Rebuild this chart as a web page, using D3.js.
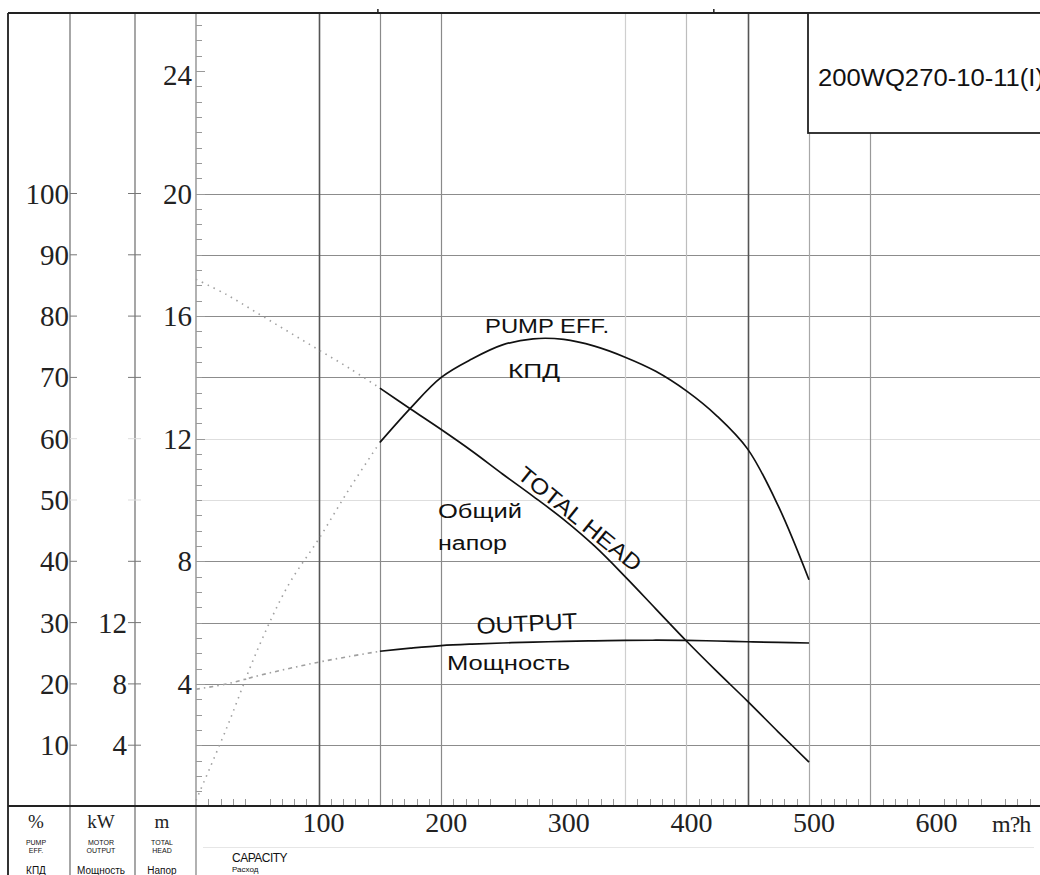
<!DOCTYPE html>
<html>
<head>
<meta charset="utf-8">
<script src="https://cdn.jsdelivr.net/npm/d3@7/dist/d3.min.js"></script>
<style>
  html, body { margin: 0; padding: 0; background: #fff; }
  svg { display: block; }
  .serif { font-family: "Liberation Serif", "DejaVu Serif", serif; fill: #222; }
  .sans { font-family: "Liberation Sans", Arial, sans-serif; fill: #111; }
</style>
</head>
<body>
<svg id="chart" width="1040" height="875"></svg>
<script>
// ---------------- data ----------------
const capacity   = [0, 25, 50, 75, 100, 125, 150, 175, 200, 225, 250, 275, 300, 325, 350, 375, 400, 425, 450, 475, 500];
const totalHead  = [17.2, 16.7, 16.1, 15.5, 14.9, 14.3, 13.65, 12.97, 12.3, 11.6, 10.85, 10.12, 9.36, 8.5, 7.5, 6.45, 5.4, 4.4, 3.43, 2.43, 1.45];
const efficiency = [1, 12.8, 25.5, 36, 43.6, 51.8, 59.4, 65, 70, 73, 75.3, 76.3, 76.2, 75.1, 73.3, 71, 67.8, 63.7, 58.3, 49, 37];
const power      = [7.65, 8.0, 8.52, 8.99, 9.42, 9.79, 10.13, 10.33, 10.5, 10.6, 10.67, 10.73, 10.77, 10.81, 10.84, 10.85, 10.84, 10.8, 10.75, 10.71, 10.67];
const solidFrom  = 150;   // operating range start (dotted below)

const xTickLabels   = [100, 200, 300, 400, 500, 600];
const headTicks     = [4, 8, 12, 16, 20, 24];
const pctTicks      = [10, 20, 30, 40, 50, 60, 70, 80, 90, 100];
const kwTicks       = [4, 8, 12];
const gridHead      = [2, 4, 6, 8, 10, 12, 14, 16, 18, 20];
const gridLight     = [10, 12];
const gridQ         = [100, 150, 200, 350, 400, 450, 500, 550];
const gridQStyle    = {100: "#555", 150: "#8a8a8a", 200: "#8a8a8a", 350: "#cfcfcf", 400: "#bdbdbd", 450: "#555", 500: "#a8a8a8", 550: "#999"};
const modelName     = "200WQ270-10-11(I)";
const unitLabel     = "m?h";

// ---------------- scales ----------------
const svg = d3.select("#chart");
const W = 1040, H = 875;
const x = d3.scaleLinear().domain([0, 600]).range([196, 931.6]);
const yHead = d3.scaleLinear().domain([0, 20]).range([806.5, 193.5]);
const yPct  = d3.scaleLinear().domain([0, 100]).range([806.5, 193.5]);
const yKw   = d3.scaleLinear().domain([0, 40]).range([806.5, 193.5]);
const topY = 13, axisY = 806;

// ---------------- grid ----------------
const g = svg.append("g");
g.selectAll("line.hg").data(gridHead).enter().append("line")
  .attr("x1", 196).attr("x2", W)
  .attr("y1", d => Math.round(yHead(d)) + 0.5).attr("y2", d => Math.round(yHead(d)) + 0.5)
  .attr("stroke", d => gridLight.includes(d) ? "#dedede" : "#8c8c8c").attr("stroke-width", 1);

g.selectAll("line.vg").data(gridQ).enter().append("line")
  .attr("x1", d => Math.round(x(d)) + 0.5).attr("x2", d => Math.round(x(d)) + 0.5)
  .attr("y1", d => d >= 550 ? 133 : topY).attr("y2", axisY)
  .attr("stroke", d => gridQStyle[d]).attr("stroke-width", d => (d === 100 || d === 450) ? 1.6 : 1.2);

[[8, "#333", 2], [70, "#777", 1.3], [135, "#777", 1.3], [196, "#888", 1.3]].forEach(([xx, c, w]) => {
  svg.append("line").attr("x1", xx).attr("x2", xx).attr("y1", topY).attr("y2", H)
    .attr("stroke", c).attr("stroke-width", w);
});
svg.append("line").attr("x1", 203).attr("x2", 1034).attr("y1", 847.5).attr("y2", 847.5)
  .attr("stroke", "#e6e6e6").attr("stroke-width", 1);

svg.append("line").attr("x1", 8).attr("x2", W).attr("y1", topY).attr("y2", topY)
  .attr("stroke", "#222").attr("stroke-width", 2.2);
[150, 424].forEach(q => {
  svg.append("line").attr("x1", x(q) - 2).attr("x2", x(q) - 2).attr("y1", 9).attr("y2", topY)
    .attr("stroke", "#222").attr("stroke-width", 1.5);
});

svg.append("rect").attr("x", 808).attr("y", topY).attr("width", 240).attr("height", 120)
  .attr("fill", "#fff").attr("stroke", "#222").attr("stroke-width", 1.8);
svg.append("text").attr("class", "sans").attr("x", 818).attr("y", 86)
  .attr("font-size", 23).attr("textLength", 226).attr("lengthAdjust", "spacingAndGlyphs")
  .text(modelName);

// ---------------- axes ----------------
const headMinor = d3.range(0.5, 25.6, 0.5);
svg.selectAll("line.hm").data(headMinor).enter().append("line")
  .attr("x1", 196).attr("x2", d => d % 4 === 0 ? 205 : 202)
  .attr("y1", d => Math.round(yHead(d)) + 0.5).attr("y2", d => Math.round(yHead(d)) + 0.5)
  .attr("stroke", "#999").attr("stroke-width", 1);

const qMinor = d3.range(10, 700, 10).filter(d => d % 50 !== 0);
svg.selectAll("line.qm").data(qMinor).enter().append("line")
  .attr("x1", d => Math.round(x(d)) + 0.5).attr("x2", d => Math.round(x(d)) + 0.5)
  .attr("y1", axisY - 7).attr("y2", axisY)
  .attr("stroke", "#999").attr("stroke-width", 1);

svg.append("line").attr("x1", 8).attr("x2", W).attr("y1", axisY).attr("y2", axisY)
  .attr("stroke", "#222").attr("stroke-width", 2.2);

svg.selectAll("line.pt").data(pctTicks).enter().append("line")
  .attr("x1", 70).attr("x2", 77)
  .attr("y1", d => yPct(d)).attr("y2", d => yPct(d))
  .attr("stroke", d => (d === 50 || d === 60) ? "#ddd" : "#777");
svg.selectAll("text.pl").data(pctTicks).enter().append("text")
  .attr("class", "serif").attr("x", 69).attr("y", d => yPct(d) + 10)
  .attr("text-anchor", "end").attr("font-size", 29)
  .text(d => d);

svg.selectAll("line.kt").data(gridHead).enter().append("line")
  .attr("x1", 128).attr("x2", 141)
  .attr("y1", d => yHead(d)).attr("y2", d => yHead(d))
  .attr("stroke", d => gridLight.includes(d) ? "#ddd" : "#777");
svg.selectAll("text.kl").data(kwTicks).enter().append("text")
  .attr("class", "serif").attr("x", 127).attr("y", d => yKw(d) + 10)
  .attr("text-anchor", "end").attr("font-size", 29)
  .text(d => d);

svg.selectAll("text.hl").data(headTicks).enter().append("text")
  .attr("class", "serif").attr("x", 192).attr("y", d => yHead(d) + (d === 24 ? 14 : 10))
  .attr("text-anchor", "end").attr("font-size", 29)
  .text(d => d);

svg.selectAll("text.xl").data(xTickLabels).enter().append("text")
  .attr("class", "serif").attr("x", d => x(d) + 5).attr("y", 832)
  .attr("text-anchor", "middle").attr("font-size", 28)
  .text(d => d);
svg.append("text").attr("class", "serif").attr("x", 992).attr("y", 832)
  .attr("font-size", 24).attr("letter-spacing", -1).text(unitLabel);

const cap = [
  {x: 36, unit: "%",  l1: "PUMP",  l2: "EFF.",   l3: "КПД"},
  {x: 101, unit: "kW", l1: "MOTOR", l2: "OUTPUT", l3: "Мощность"},
  {x: 162, unit: "m",  l1: "TOTAL", l2: "HEAD",   l3: "Напор"}
];
cap.forEach(c => {
  svg.append("text").attr("class", "serif").attr("x", c.x).attr("y", 828)
    .attr("text-anchor", "middle").attr("font-size", 19).text(c.unit);
  svg.append("text").attr("class", "sans").attr("x", c.x).attr("y", 845)
    .attr("text-anchor", "middle").attr("font-size", 7).text(c.l1);
  svg.append("text").attr("class", "sans").attr("x", c.x).attr("y", 853)
    .attr("text-anchor", "middle").attr("font-size", 7).text(c.l2);
  svg.append("text").attr("class", "sans").attr("x", c.x).attr("y", 874)
    .attr("text-anchor", "middle").attr("font-size", 10).text(c.l3);
});
svg.append("text").attr("class", "sans").attr("x", 232).attr("y", 862)
  .attr("font-size", 12).attr("letter-spacing", -0.5).text("CAPACITY");
svg.append("text").attr("class", "sans").attr("x", 232).attr("y", 872)
  .attr("font-size", 8).text("Расход");

// ---------------- curves ----------------
function series(vals) { return capacity.map((q, i) => ({q, v: vals[i]})); }
function drawCurve(vals, yScale) {
  const pts = series(vals);
  const line = d3.line().x(d => x(d.q)).y(d => yScale(d.v)).curve(d3.curveCatmullRom.alpha(0.5));
  return {
    dotted: line(pts.filter(d => d.q <= solidFrom)),
    solid:  line(pts.filter(d => d.q >= solidFrom))
  };
}
const head = drawCurve(totalHead, yHead);
const eff  = drawCurve(efficiency, yPct);
const pow  = drawCurve(power, yKw);

const cg = svg.append("g").attr("fill", "none");
cg.append("path").attr("d", head.dotted).attr("stroke", "#a0a0a0").attr("stroke-width", 1.6).attr("stroke-dasharray", "1.5,5");
cg.append("path").attr("d", eff.dotted).attr("stroke", "#a0a0a0").attr("stroke-width", 1.6).attr("stroke-dasharray", "1.5,5");
cg.append("path").attr("d", pow.dotted).attr("stroke", "#a0a0a0").attr("stroke-width", 1.6).attr("stroke-dasharray", "4,4,1.5,4");
cg.append("path").attr("d", head.solid).attr("stroke", "#111").attr("stroke-width", 1.7);
cg.append("path").attr("d", eff.solid).attr("stroke", "#111").attr("stroke-width", 1.7);
cg.append("path").attr("d", pow.solid).attr("stroke", "#111").attr("stroke-width", 1.7);

// ---------------- curve labels ----------------
function label(txt, tx, ty, size, len, rot) {
  svg.append("text").attr("class", "sans").attr("font-size", size)
    .attr("textLength", len).attr("lengthAdjust", "spacingAndGlyphs")
    .attr("transform", `translate(${tx},${ty}) rotate(${rot || 0})`).text(txt);
}
label("PUMP EFF.", 485, 333, 21, 124);
label("КПД", 508, 378, 20, 52);
label("Общий", 438, 518, 20, 84);
label("напор", 438, 550, 20, 69);
label("TOTAL HEAD", 516, 477, 22, 152, 39);
label("OUTPUT", 477, 634, 23, 101, -3);
label("Мощность", 447, 670, 20, 123);
</script>
</body>
</html>
